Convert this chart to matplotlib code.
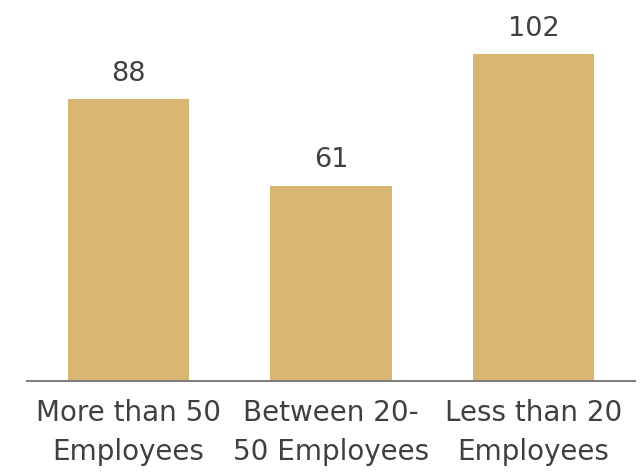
import matplotlib
matplotlib.use("Agg")
import matplotlib.pyplot as plt

categories = ["More than 50\nEmployees", "Between 20-\n50 Employees", "Less than 20\nEmployees"]
values = [88, 61, 102]

bar_color = "#D9B574"
text_color = "#404040"

fig = plt.figure(figsize=(6.41, 4.76), dpi=100)
ax = fig.add_axes([27 / 641, (476 - 381) / 476, (635 - 27) / 641, 381 / 476])

x = range(len(values))
bars = ax.bar(x, values, width=0.6, color=bar_color, zorder=2)
ax.set_xlim(-0.5, 2.5)
ax.set_ylim(0, 119)

for b, v in zip(bars, values):
    ax.annotate(str(v), (b.get_x() + b.get_width() / 2, v), xytext=(0, 9),
                textcoords="offset points", ha="center", va="bottom",
                fontsize=19.5, color=text_color)

ax.set_xticks(list(x))
ax.set_xticklabels(categories, fontsize=20, color=text_color, linespacing=1.5)
ax.tick_params(axis="x", length=0, pad=13)
ax.set_yticks([])
for s in ["top", "right", "left"]:
    ax.spines[s].set_visible(False)
ax.spines["bottom"].set_color("#808080")
ax.spines["bottom"].set_linewidth(1.5)

fig.savefig("out.png", dpi=100)
